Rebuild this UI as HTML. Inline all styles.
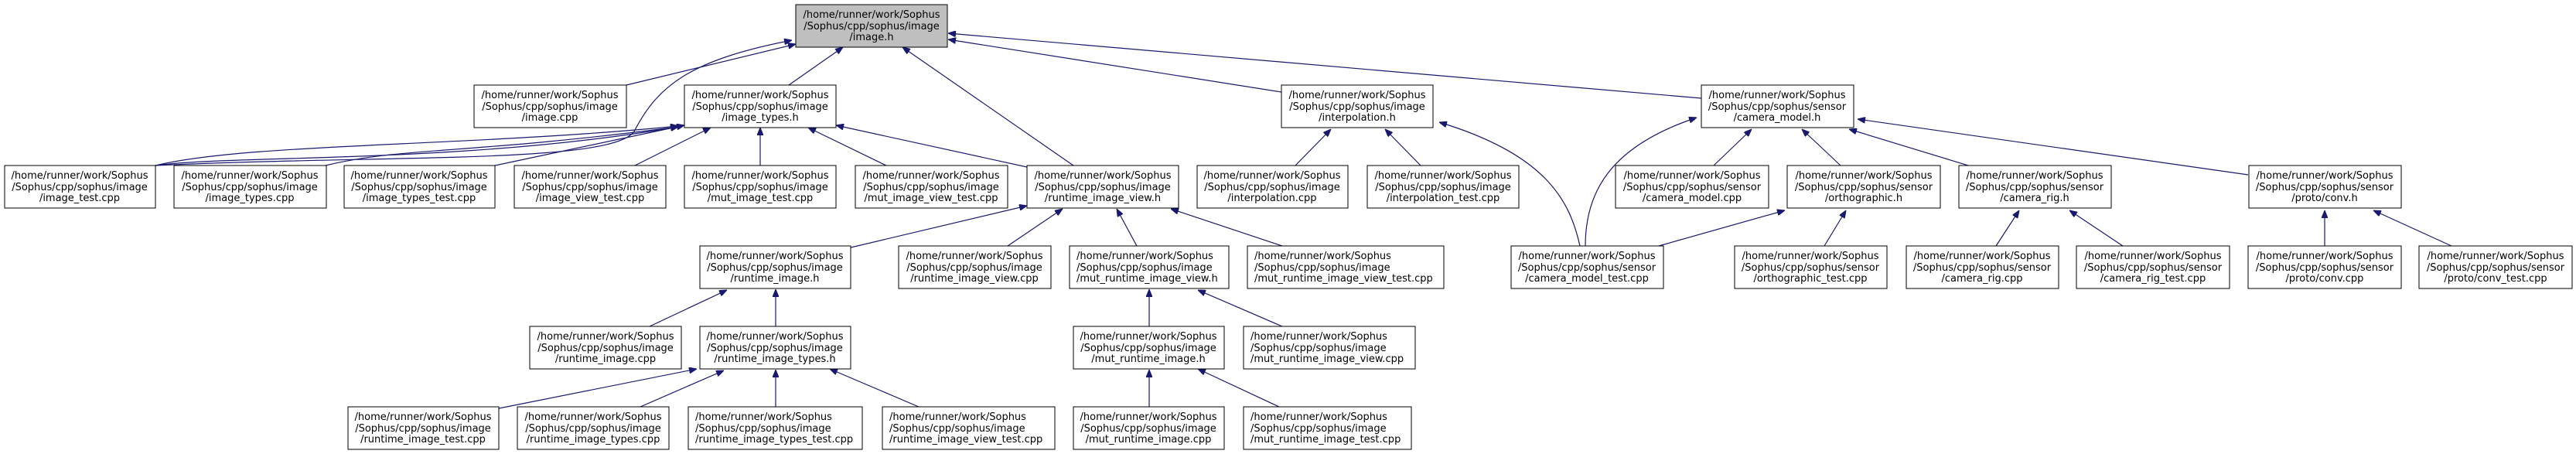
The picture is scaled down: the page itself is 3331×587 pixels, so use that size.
<!DOCTYPE html>
<html><head><meta charset="utf-8"><style>
html,body{margin:0;padding:0;background:#fff;}
svg{display:block;}
text{font-family:"DejaVu Sans","Liberation Sans",sans-serif;font-size:13px;fill:#000;}
.n rect{fill:#fff;stroke:#000;stroke-width:1;}
.e{fill:none;stroke:#191970;stroke-width:1.2;}
</style></head><body>
<svg width="3331" height="587" viewBox="0 0 3331 587" xmlns="http://www.w3.org/2000/svg">
<defs>
<marker id="a" viewBox="0 0 10 8" refX="10" refY="4" markerWidth="10" markerHeight="8" markerUnits="userSpaceOnUse" orient="auto">
<path d="M0,0 L10,4 L0,8 z" fill="#191970" stroke="#191970"/>
</marker>
</defs>
<g class="e" marker-end="url(#a)">
<!-- to image.h -->
<path d="M810,110 L1029,57" marker-end="url(#a)"/>
<path d="M201,214 C500,200 790,212 820,170 C850,112 890,78 1024,52" marker-end="url(#a)"/>
<path d="M1020,110 L1090,61" marker-end="url(#a)"/>
<path d="M1388,214 L1167,61" marker-end="url(#a)"/>
<path d="M1657,119 L1226,51" marker-end="url(#a)"/>
<path d="M2200,127 L1226,43" marker-end="url(#a)"/>
<!-- to image_types.h -->
<path d="M201,214 C320,185 600,190 877,163" marker-end="url(#a)"/>
<path d="M201,214 C300,200 600,212 877,164" marker-end="url(#a)"/>
<path d="M421,214 C520,190 600,200 877,164" marker-end="url(#a)"/>
<path d="M640,214 L885,162" marker-end="url(#a)"/>
<path d="M821,214 L919,165" marker-end="url(#a)"/>
<path d="M983,214 L983,165" marker-end="url(#a)"/>
<path d="M1146,214 L1045,165" marker-end="url(#a)"/>
<path d="M1328,216 L1081,162" marker-end="url(#a)"/>
<!-- to interpolation.h -->
<path d="M1675,214 L1721,167" marker-end="url(#a)"/>
<path d="M1837,214 L1791,167" marker-end="url(#a)"/>
<path d="M2043,318 C2030,260 2000,200 1861,158" marker-end="url(#a)"/>
<!-- to camera_model.h -->
<path d="M2050,318 C2050,250 2080,190 2194,152" marker-end="url(#a)"/>
<path d="M2216,214 L2265,167" marker-end="url(#a)"/>
<path d="M2380,214 L2330,167" marker-end="url(#a)"/>
<path d="M2545,214 L2391,167" marker-end="url(#a)"/>
<path d="M2907,226 L2402,154" marker-end="url(#a)"/>
<!-- orthographic / rig / conv -->
<path d="M2145,318 L2308,272" marker-end="url(#a)"/>
<path d="M2359,318 L2387,272" marker-end="url(#a)"/>
<path d="M2581,318 L2611,272" marker-end="url(#a)"/>
<path d="M2745,318 L2676,272" marker-end="url(#a)"/>
<path d="M3006,318 L3006,272" marker-end="url(#a)"/>
<path d="M3170,318 L3069,272" marker-end="url(#a)"/>
<!-- to runtime_image_view.h -->
<path d="M1100,320 L1328,266" marker-end="url(#a)"/>
<path d="M1303,318 L1374,270" marker-end="url(#a)"/>
<path d="M1470,318 L1444,270" marker-end="url(#a)"/>
<path d="M1658,318 L1514,270" marker-end="url(#a)"/>
<!-- runtime_image.h -->
<path d="M840,422 L940,375" marker-end="url(#a)"/>
<path d="M1003,422 L1003,374" marker-end="url(#a)"/>
<!-- runtime_image_types.h -->
<path d="M645,528 L901,477" marker-end="url(#a)"/>
<path d="M828,526 L936,479" marker-end="url(#a)"/>
<path d="M1003,526 L1003,478" marker-end="url(#a)"/>
<path d="M1188,526 L1073,477" marker-end="url(#a)"/>
<!-- mut_runtime_image_view.h -->
<path d="M1486,422 L1486,374" marker-end="url(#a)"/>
<path d="M1658,422 L1549,375" marker-end="url(#a)"/>
<!-- mut_runtime_image.h -->
<path d="M1486,526 L1486,478" marker-end="url(#a)"/>
<path d="M1654,526 L1549,477" marker-end="url(#a)"/>
</g>

<g class="n">
<!-- Row 0 -->
<rect x="1029" y="6" width="196" height="55" style="fill:#bfbfbf"/>
<text x="1127" y="23" text-anchor="middle">/home/runner/work/Sophus</text><text x="1127" y="38" text-anchor="middle">/Sophus/cpp/sophus/image</text><text x="1127" y="52" text-anchor="middle">/image.h</text>
<!-- Row 1 -->
<rect x="613" y="110" width="197" height="55"/>
<text x="711" y="127" text-anchor="middle">/home/runner/work/Sophus</text><text x="711" y="142" text-anchor="middle">/Sophus/cpp/sophus/image</text><text x="711" y="156" text-anchor="middle">/image.cpp</text>
<rect x="885" y="110" width="196" height="55"/>
<text x="983" y="127" text-anchor="middle">/home/runner/work/Sophus</text><text x="983" y="142" text-anchor="middle">/Sophus/cpp/sophus/image</text><text x="983" y="156" text-anchor="middle">/image_types.h</text>
<rect x="1657" y="110" width="196" height="55"/>
<text x="1755" y="127" text-anchor="middle">/home/runner/work/Sophus</text><text x="1755" y="142" text-anchor="middle">/Sophus/cpp/sophus/image</text><text x="1755" y="156" text-anchor="middle">/interpolation.h</text>
<rect x="2200" y="110" width="197" height="55"/>
<text x="2298" y="127" text-anchor="middle">/home/runner/work/Sophus</text><text x="2298" y="142" text-anchor="middle">/Sophus/cpp/sophus/sensor</text><text x="2298" y="156" text-anchor="middle">/camera_model.h</text>
<!-- Row 2 -->
<rect x="6" y="214" width="195" height="55"/>
<text x="103" y="231" text-anchor="middle">/home/runner/work/Sophus</text><text x="103" y="246" text-anchor="middle">/Sophus/cpp/sophus/image</text><text x="103" y="260" text-anchor="middle">/image_test.cpp</text>
<rect x="225" y="214" width="197" height="55"/>
<text x="323" y="231" text-anchor="middle">/home/runner/work/Sophus</text><text x="323" y="246" text-anchor="middle">/Sophus/cpp/sophus/image</text><text x="323" y="260" text-anchor="middle">/image_types.cpp</text>
<rect x="445" y="214" width="195" height="55"/>
<text x="542" y="231" text-anchor="middle">/home/runner/work/Sophus</text><text x="542" y="246" text-anchor="middle">/Sophus/cpp/sophus/image</text><text x="542" y="260" text-anchor="middle">/image_types_test.cpp</text>
<rect x="665" y="214" width="196" height="55"/>
<text x="763" y="231" text-anchor="middle">/home/runner/work/Sophus</text><text x="763" y="246" text-anchor="middle">/Sophus/cpp/sophus/image</text><text x="763" y="260" text-anchor="middle">/image_view_test.cpp</text>
<rect x="885" y="214" width="196" height="55"/>
<text x="983" y="231" text-anchor="middle">/home/runner/work/Sophus</text><text x="983" y="246" text-anchor="middle">/Sophus/cpp/sophus/image</text><text x="983" y="260" text-anchor="middle">/mut_image_test.cpp</text>
<rect x="1106" y="214" width="197" height="55"/>
<text x="1204" y="231" text-anchor="middle">/home/runner/work/Sophus</text><text x="1204" y="246" text-anchor="middle">/Sophus/cpp/sophus/image</text><text x="1204" y="260" text-anchor="middle">/mut_image_view_test.cpp</text>
<rect x="1328" y="214" width="196" height="55"/>
<text x="1426" y="231" text-anchor="middle">/home/runner/work/Sophus</text><text x="1426" y="246" text-anchor="middle">/Sophus/cpp/sophus/image</text><text x="1426" y="260" text-anchor="middle">/runtime_image_view.h</text>
<rect x="1548" y="214" width="195" height="55"/>
<text x="1645" y="231" text-anchor="middle">/home/runner/work/Sophus</text><text x="1645" y="246" text-anchor="middle">/Sophus/cpp/sophus/image</text><text x="1645" y="260" text-anchor="middle">/interpolation.cpp</text>
<rect x="1768" y="214" width="196" height="55"/>
<text x="1866" y="231" text-anchor="middle">/home/runner/work/Sophus</text><text x="1866" y="246" text-anchor="middle">/Sophus/cpp/sophus/image</text><text x="1866" y="260" text-anchor="middle">/interpolation_test.cpp</text>
<rect x="2089" y="214" width="198" height="55"/>
<text x="2188" y="231" text-anchor="middle">/home/runner/work/Sophus</text><text x="2188" y="246" text-anchor="middle">/Sophus/cpp/sophus/sensor</text><text x="2188" y="260" text-anchor="middle">/camera_model.cpp</text>
<rect x="2311" y="214" width="198" height="55"/>
<text x="2410" y="231" text-anchor="middle">/home/runner/work/Sophus</text><text x="2410" y="246" text-anchor="middle">/Sophus/cpp/sophus/sensor</text><text x="2410" y="260" text-anchor="middle">/orthographic.h</text>
<rect x="2533" y="214" width="197" height="55"/>
<text x="2631" y="231" text-anchor="middle">/home/runner/work/Sophus</text><text x="2631" y="246" text-anchor="middle">/Sophus/cpp/sophus/sensor</text><text x="2631" y="260" text-anchor="middle">/camera_rig.h</text>
<rect x="2908" y="214" width="197" height="55"/>
<text x="3006" y="231" text-anchor="middle">/home/runner/work/Sophus</text><text x="3006" y="246" text-anchor="middle">/Sophus/cpp/sophus/sensor</text><text x="3006" y="260" text-anchor="middle">/proto/conv.h</text>
<!-- Row 3 -->
<rect x="905" y="318" width="195" height="55"/>
<text x="1002" y="335" text-anchor="middle">/home/runner/work/Sophus</text><text x="1002" y="350" text-anchor="middle">/Sophus/cpp/sophus/image</text><text x="1002" y="364" text-anchor="middle">/runtime_image.h</text>
<rect x="1162" y="318" width="197" height="55"/>
<text x="1260" y="335" text-anchor="middle">/home/runner/work/Sophus</text><text x="1260" y="350" text-anchor="middle">/Sophus/cpp/sophus/image</text><text x="1260" y="364" text-anchor="middle">/runtime_image_view.cpp</text>
<rect x="1383" y="318" width="206" height="55"/>
<text x="1392" y="335">/home/runner/work/Sophus</text><text x="1392" y="350">/Sophus/cpp/sophus/image</text><text x="1392" y="364">/mut_runtime_image_view.h</text>
<rect x="1613" y="318" width="254" height="55"/>
<text x="1622" y="335">/home/runner/work/Sophus</text><text x="1622" y="350">/Sophus/cpp/sophus/image</text><text x="1622" y="364">/mut_runtime_image_view_test.cpp</text>
<rect x="1954" y="318" width="197" height="55"/>
<text x="2052" y="335" text-anchor="middle">/home/runner/work/Sophus</text><text x="2052" y="350" text-anchor="middle">/Sophus/cpp/sophus/sensor</text><text x="2052" y="364" text-anchor="middle">/camera_model_test.cpp</text>
<rect x="2243" y="318" width="197" height="55"/>
<text x="2341" y="335" text-anchor="middle">/home/runner/work/Sophus</text><text x="2341" y="350" text-anchor="middle">/Sophus/cpp/sophus/sensor</text><text x="2341" y="364" text-anchor="middle">/orthographic_test.cpp</text>
<rect x="2465" y="318" width="197" height="55"/>
<text x="2563" y="335" text-anchor="middle">/home/runner/work/Sophus</text><text x="2563" y="350" text-anchor="middle">/Sophus/cpp/sophus/sensor</text><text x="2563" y="364" text-anchor="middle">/camera_rig.cpp</text>
<rect x="2685" y="318" width="198" height="55"/>
<text x="2784" y="335" text-anchor="middle">/home/runner/work/Sophus</text><text x="2784" y="350" text-anchor="middle">/Sophus/cpp/sophus/sensor</text><text x="2784" y="364" text-anchor="middle">/camera_rig_test.cpp</text>
<rect x="2907" y="318" width="198" height="55"/>
<text x="3006" y="335" text-anchor="middle">/home/runner/work/Sophus</text><text x="3006" y="350" text-anchor="middle">/Sophus/cpp/sophus/sensor</text><text x="3006" y="364" text-anchor="middle">/proto/conv.cpp</text>
<rect x="3128" y="318" width="198" height="55"/>
<text x="3227" y="335" text-anchor="middle">/home/runner/work/Sophus</text><text x="3227" y="350" text-anchor="middle">/Sophus/cpp/sophus/sensor</text><text x="3227" y="364" text-anchor="middle">/proto/conv_test.cpp</text>
<!-- Row 4 -->
<rect x="685" y="422" width="196" height="55"/>
<text x="783" y="439" text-anchor="middle">/home/runner/work/Sophus</text><text x="783" y="454" text-anchor="middle">/Sophus/cpp/sophus/image</text><text x="783" y="468" text-anchor="middle">/runtime_image.cpp</text>
<rect x="905" y="422" width="195" height="55"/>
<text x="1002" y="439" text-anchor="middle">/home/runner/work/Sophus</text><text x="1002" y="454" text-anchor="middle">/Sophus/cpp/sophus/image</text><text x="1002" y="468" text-anchor="middle">/runtime_image_types.h</text>
<rect x="1388" y="422" width="195" height="55"/>
<text x="1485" y="439" text-anchor="middle">/home/runner/work/Sophus</text><text x="1485" y="454" text-anchor="middle">/Sophus/cpp/sophus/image</text><text x="1485" y="468" text-anchor="middle">/mut_runtime_image.h</text>
<rect x="1608" y="422" width="222" height="55"/>
<text x="1617" y="439">/home/runner/work/Sophus</text><text x="1617" y="454">/Sophus/cpp/sophus/image</text><text x="1617" y="468">/mut_runtime_image_view.cpp</text>
<!-- Row 5 -->
<rect x="450" y="526" width="195" height="55"/>
<text x="547" y="543" text-anchor="middle">/home/runner/work/Sophus</text><text x="547" y="558" text-anchor="middle">/Sophus/cpp/sophus/image</text><text x="547" y="572" text-anchor="middle">/runtime_image_test.cpp</text>
<rect x="669" y="526" width="196" height="55"/>
<text x="767" y="543" text-anchor="middle">/home/runner/work/Sophus</text><text x="767" y="558" text-anchor="middle">/Sophus/cpp/sophus/image</text><text x="767" y="572" text-anchor="middle">/runtime_image_types.cpp</text>
<rect x="890" y="526" width="225" height="55"/>
<text x="899" y="543">/home/runner/work/Sophus</text><text x="899" y="558">/Sophus/cpp/sophus/image</text><text x="899" y="572">/runtime_image_types_test.cpp</text>
<rect x="1141" y="526" width="223" height="55"/>
<text x="1150" y="543">/home/runner/work/Sophus</text><text x="1150" y="558">/Sophus/cpp/sophus/image</text><text x="1150" y="572">/runtime_image_view_test.cpp</text>
<rect x="1388" y="526" width="195" height="55"/>
<text x="1485" y="543" text-anchor="middle">/home/runner/work/Sophus</text><text x="1485" y="558" text-anchor="middle">/Sophus/cpp/sophus/image</text><text x="1485" y="572" text-anchor="middle">/mut_runtime_image.cpp</text>
<rect x="1608" y="526" width="217" height="55"/>
<text x="1617" y="543">/home/runner/work/Sophus</text><text x="1617" y="558">/Sophus/cpp/sophus/image</text><text x="1617" y="572">/mut_runtime_image_test.cpp</text>
</g>
</svg>
</body></html>
